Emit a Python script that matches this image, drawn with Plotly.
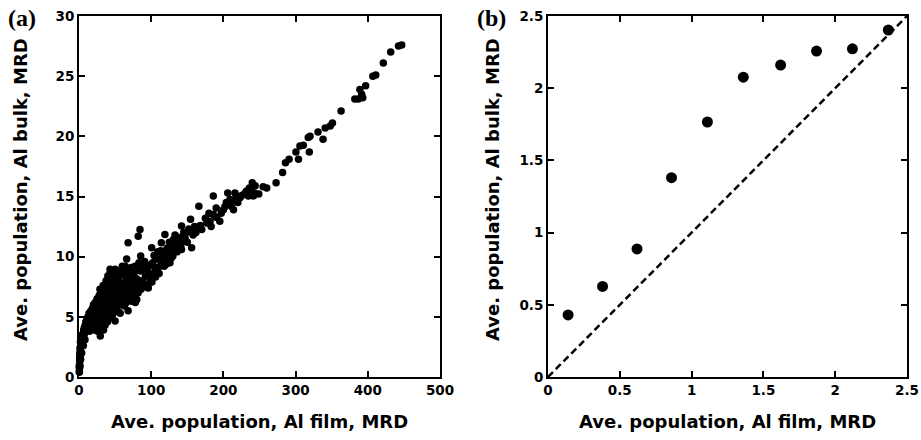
import plotly.graph_objects as go

# ---- Panel (a) data: Al film vs Al bulk ----
pts_a = [
    (0.5,0.4),(0.6,0.7),(0.8,1.0),(1.0,1.3),(1.2,1.6),(1.5,1.9),(1.8,2.2),(2.2,2.5),(2.6,2.8),(3.0,3.0),
    (3.5,2.7),(4.0,3.2),(4.5,3.5),(5.0,3.0),(5.5,3.6),(6.0,3.3),(6.5,3.9),(7.0,3.5),(7.5,4.1),(8.0,3.7),
    (8.5,4.3),(9.0,3.9),(9.5,4.6),(10,4.1),(0.3,0.9),(1.1,2.0),(2.0,2.9),(0.9,1.5),(1.4,2.4),(3.2,3.4),
    (0.5,0.5),(1.4,0.9),(1.4,1.75),(2.3,1.45),(3.7,2.0),(6,2.6),(8.3,3.1),(10.6,3.95),
    (11,4.8),(11.5,3.9),(12,4.4),(12.5,5.0),(13,4.2),(13.5,4.7),(14,5.3),(14.5,3.8),(15,4.5),(15.5,5.1),
    (16,4.0),(16.5,5.5),(17,4.6),(17.5,4.2),(18,5.0),(18.5,5.7),(19,4.4),(19.5,5.3),(20,4.8),(20,6.0),
    (21,3.9),(21.5,5.5),(22,4.5),(22.5,6.2),(23,5.0),(23.5,4.2),(24,5.8),(24.5,4.7),(25,6.5),(25.5,5.3),
    (26,3.8),(26.5,6.0),(27,4.9),(27.5,5.6),(28,6.8),(28.5,4.4),(29,5.2),(29,7.3),(29.5,3.4),(30,6.2),(30,4.0),
    (31,5.6),(31.5,7.0),(32,4.6),(32.5,6.5),(33,5.0),(33.5,7.6),(34,3.9),(34.5,6.0),(35,5.4),(35.5,7.2),
    (36,4.3),(36.5,6.7),(37,5.8),(37.5,8.0),(38,5.0),(38.5,6.3),(39,7.4),(39.5,4.6),(40,5.9),(40,8.4),
    (41,6.8),(41.5,5.2),(42,7.7),(42.5,4.9),(43,8.65),(43,8.95),(43.5,6.3),(44,7.1),(44.5,5.6),(45,8.2),
    (45.5,6.6),(46,5.1),(46.5,7.5),(47,6.0),(47.5,8.6),(48,6.9),(48.5,5.4),(49,7.9),(49.5,6.4),(50,4.65),
    (50,8.95),(50,7.2),(51,5.8),(51.5,8.3),(52,5.6),(52.5,6.7),(53,7.6),(53.5,6.1),(54,8.8),(54.5,7.0),
    (55,5.4),(55.5,8.0),(56,6.5),(56.5,7.4),(57,5.3),(57,6.45),(57.5,8.5),(58,7.1),(58.5,6.0),(59,7.55),
    (59.5,8.9),(60,6.7),(60,9.2),(61,7.8),(61.5,6.3),(62,8.6),(62.5,7.2),(63,5.9),(63.5,9.0),(64,9.2),
    (64,7.6),(64.5,6.8),(65,8.3),(65.5,6.2),(66,9.8),(66,7.0),(66.5,8.0),(67,6.6),(67.5,8.9),(68,5.5),
    (68,11.15),(68.5,7.5),(69,8.6),(69.5,6.9),(70,7.9),(71,6.4),(71.5,8.4),(72,7.1),(72.5,9.1),(73,6.3),
    (73,7.3),(73.5,8.0),(74,6.8),(74.5,9.0),(75,8.1),(75.5,7.5),(76,6.7),(76.5,8.7),(77,7.0),(77.6,9.2),
    (78,6.2),(78.5,8.2),(79,7.6),(80,6.45),(80,9.0),(81,8.1),(82,11.7),(82,7.0),(83,9.5),(84,7.85),
    (84.5,12.25),(85,8.8),(85.4,10.05),(86,7.3),(87,9.2),(88,8.0),(89,8.95),(90,7.6),(91,9.6),(92,8.4),
    (93,7.5),(94,8.4),(95,9.1),(96,7.4),(97,8.6),(98,7.85),(99,9.3),(100,8.2),(100.6,10.75),
    (101,7.9),(102,9.5),(103,8.6),(104,10.1),(105,9.1),(106,8.3),(107,9.8),(108,9.0),(109,10.4),(110,9.8),
    (111,8.6),(112,9.2),(113,10.5),(114,11.15),(115,9.5),(116,10.2),(117,10.05),(118,9.2),(119,11.85),(120,10.0),
    (121,9.4),(122,10.7),(123,9.7),(124,10.3),(125,11.2),(126,9.5),(127,10.6),(128,9.9),(129,11.0),(130,10.05),
    (131,11.45),(132,10.5),(133,11.8),(135,11.0),(136,10.4),(138,11.6),(140,11.45),(141,10.9),(142,12.55),(142,10.6),
    (144,11.3),(145,12.0),(147,11.5),(149,12.0),(150,11.2),(152,12.3),(154.5,13.1),(156,12.1),(156,10.75),(158,11.8),
    (160,12.5),(162,12.0),(164,12.4),(166,14.2),(168,12.6),(170,12.25),(175,13.2),(177,12.8),(180,13.6),(181.5,12.95),
    (183,12.5),(186,13.5),(186,15.05),(190,14.05),(190.5,13.25),(195,12.95),(197,13.6),(200,13.9),(202,14.15),(204,14.5),
    (206,15.3),(209,14.75),(209,14.4),(211,14.2),(214,14.7),(214,13.9),(216,15.3),(218.4,15.05),(220,14.5),(223,14.9),
    (226,15.1),(230,15.3),(232,15.45),(234.5,15.05),(236,15.7),(238,15.55),(240,16.15),(241.5,15.05),(243,15.3),(244,15.9),
    (249,15.2),(255,15.8),(260,15.7),(273,16.15),(282,17.0),(286,17.8),(291,18.1),(300.5,18.7),(304,18.1),(306,19.2),
    (310.7,19.25),(317.5,19.9),(319,18.7),(320,20.0),(331,20.35),(338,19.75),(341,20.7),(348,20.85),(351,21.1),(363,22.1),
    (382,23.1),(387,23.1),(389,23.9),(391.5,23.5),(393,23.2),(397,24.2),(407,25.0),(411,25.1),(421.5,26.1),(431.7,27.0),
    (442.5,27.5),(447,27.6),
]
film_a = [p[0] for p in pts_a]
bulk_a = [p[1] for p in pts_a]

# ---- Panel (b) data ----
film_b = [0.14, 0.38, 0.62, 0.86, 1.11, 1.36, 1.62, 1.87, 2.12, 2.37]
bulk_b = [0.43, 0.627, 0.887, 1.38, 1.766, 2.076, 2.16, 2.257, 2.273, 2.403]
diag = [0, 2.5]

xtitle = "Ave. population, Al film, MRD"
ytitle = "Ave. population, Al bulk, MRD"

W, H = 921, 440
def px(x): return x / W
def py(y): return 1 - y / H

fig = go.Figure()
fig.add_trace(go.Scatter(x=film_a, y=bulk_a, mode="markers", xaxis="x", yaxis="y",
                         marker=dict(color="black", size=7.5), cliponaxis=False, showlegend=False))
fig.add_trace(go.Scatter(x=diag, y=diag, mode="lines", xaxis="x2", yaxis="y2",
                         line=dict(color="black", width=2.5, dash="7px,4px"), showlegend=False))
fig.add_trace(go.Scatter(x=film_b, y=bulk_b, mode="markers", xaxis="x2", yaxis="y2",
                         marker=dict(color="black", size=11), cliponaxis=False, showlegend=False))

tickfont = dict(family="DejaVu Sans", size=13.5, color="black", weight="bold")
common = dict(showline=True, linewidth=2, linecolor="black", mirror="ticks", ticks="inside",
              ticklen=6, tickwidth=2, tickcolor="black", showgrid=False, zeroline=False,
              tickfont=tickfont, automargin=False, ticklabeloverflow="allow")

yd = [py(377), py(16)]
fig.update_layout(
    width=W, height=H, margin=dict(l=0, r=0, t=0, b=0, autoexpand=False),
    paper_bgcolor="white", plot_bgcolor="white",
    xaxis=dict(domain=[px(79), px(440)], range=[0, 500], tickvals=[0,100,200,300,400,500], anchor="y", **common),
    yaxis=dict(domain=yd, range=[0, 30], tickvals=[0,5,10,15,20,25,30], anchor="x", **common),
    xaxis2=dict(domain=[px(548), px(907)], range=[0, 2.5], tickvals=[0,0.5,1,1.5,2,2.5], anchor="y2", **common),
    yaxis2=dict(domain=yd, range=[0, 2.5], tickvals=[0,0.5,1,1.5,2,2.5], anchor="x2", **common),
)

tfont = dict(family="DejaVu Sans", size=18, color="black", weight="bold")
lfont = dict(family="Liberation Serif, Times New Roman", size=24, color="black", weight="bold")
ann = [
    dict(text=xtitle, x=px(259), y=py(421), font=tfont),
    dict(text=xtitle, x=px(727), y=py(421), font=tfont),
    dict(text=ytitle, x=px(20), y=py(190), font=tfont, textangle=-90),
    dict(text=ytitle, x=px(492), y=py(190), font=tfont, textangle=-90),
    dict(text="(a)", x=px(22), y=py(18), font=lfont),
    dict(text="(b)", x=px(491), y=py(18), font=lfont),
]
for a in ann:
    fig.add_annotation(xref="paper", yref="paper", showarrow=False, xanchor="center", yanchor="middle", **a)

fig.write_html("out.html")
